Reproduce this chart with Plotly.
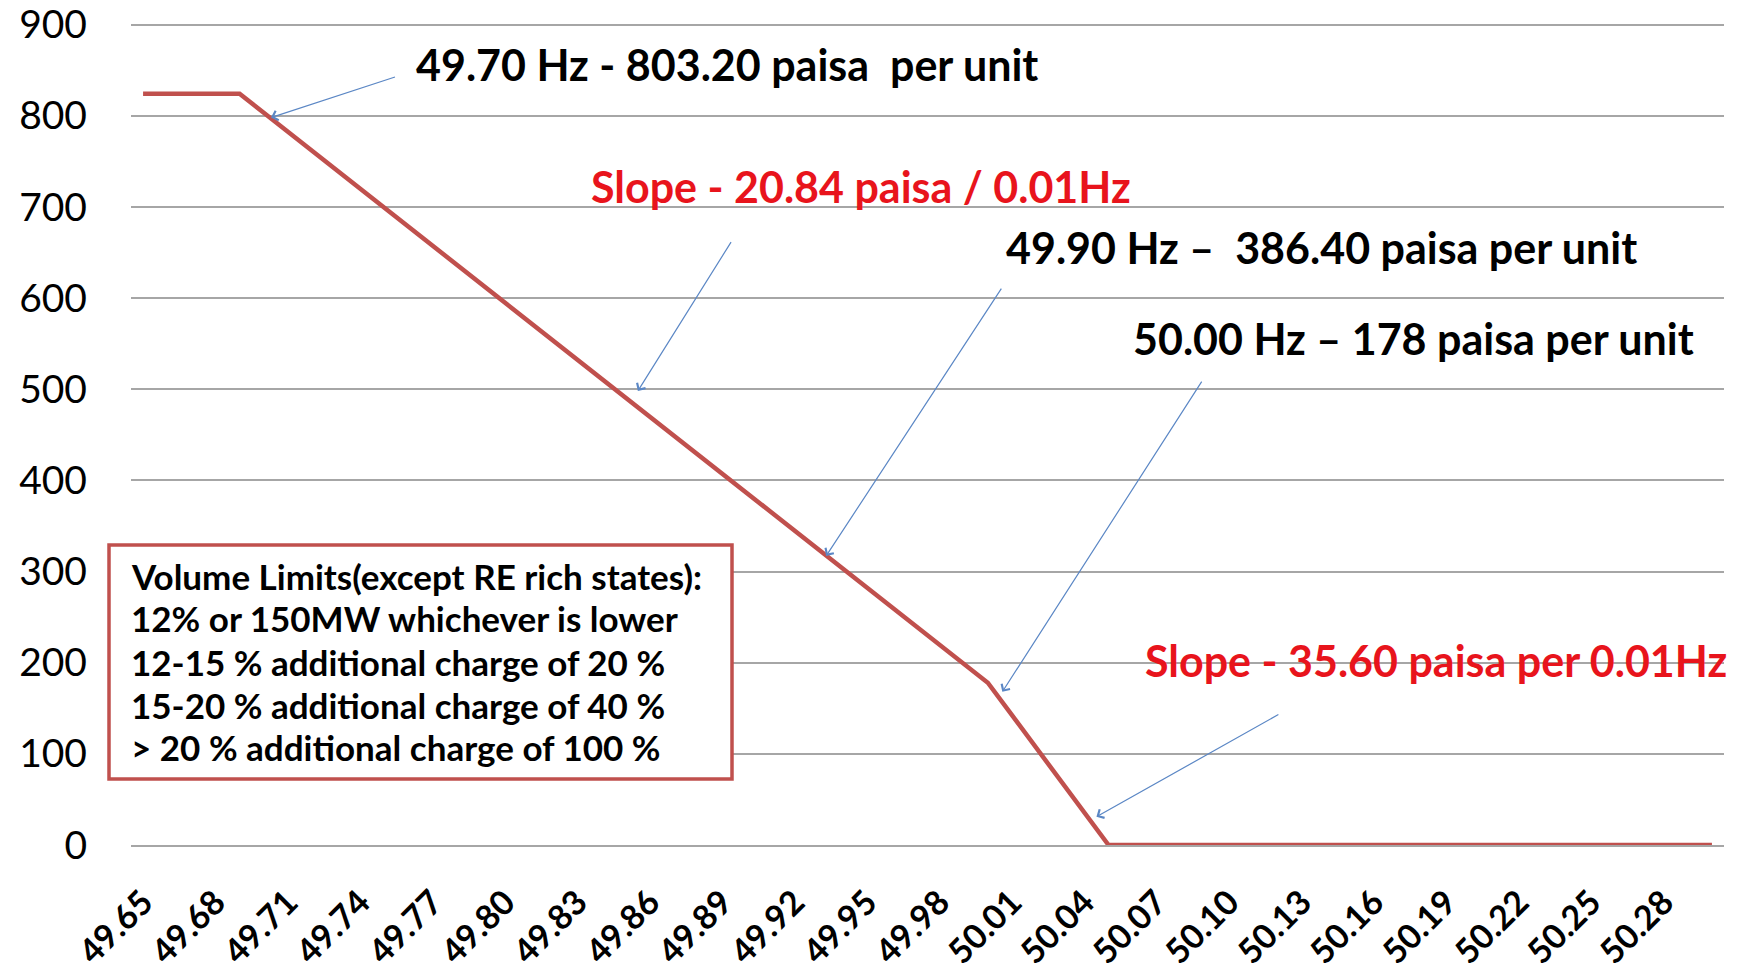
import plotly.graph_objects as go

# ---------------- data ----------------
frequency_hz = [
    49.65, 49.66, 49.67, 49.68, 49.69, 49.70, 49.71, 49.72, 49.73, 49.74,
    49.75, 49.76, 49.77, 49.78, 49.79, 49.80, 49.81, 49.82, 49.83, 49.84,
    49.85, 49.86, 49.87, 49.88, 49.89, 49.90, 49.91, 49.92, 49.93, 49.94,
    49.95, 49.96, 49.97, 49.98, 49.99, 50.00, 50.01, 50.02, 50.03, 50.04,
    50.05, 50.06, 50.07, 50.08, 50.09, 50.10, 50.11, 50.12, 50.13, 50.14,
    50.15, 50.16, 50.17, 50.18, 50.19, 50.20, 50.21, 50.22, 50.23, 50.24,
    50.25, 50.26, 50.27, 50.28, 50.29, 50.30,
]
charge_paisa = [
    824.04, 824.04, 824.04, 824.04, 824.04, 803.20, 782.36, 761.52, 740.68, 719.84,
    699.00, 678.16, 657.32, 636.48, 615.64, 594.80, 573.96, 553.12, 532.28, 511.44,
    490.60, 469.76, 448.92, 428.08, 407.24, 386.40, 365.56, 344.72, 323.88, 303.04,
    282.20, 261.36, 240.52, 219.68, 198.84, 178.00, 142.40, 106.80, 71.20, 35.60,
    0, 0, 0, 0, 0, 0, 0, 0, 0, 0,
    0, 0, 0, 0, 0, 0, 0, 0, 0, 0,
    0, 0, 0, 0, 0, 0,
]
x_tick_labels = ["49.65", "49.68", "49.71", "49.74", "49.77", "49.80", "49.83",
                 "49.86", "49.89", "49.92", "49.95", "49.98", "50.01", "50.04",
                 "50.07", "50.10", "50.13", "50.16", "50.19", "50.22", "50.25", "50.28"]
y_tick_values = [0, 100, 200, 300, 400, 500, 600, 700, 800, 900]

callout_texts = [
    "49.70 Hz - 803.20 paisa&nbsp; per unit",
    "Slope - 20.84 paisa / 0.01Hz",
    "49.90 Hz –&nbsp; 386.40 paisa per unit",
    "50.00 Hz – 178 paisa per unit",
    "Slope - 35.60 paisa per 0.01Hz",
]
callout_colors = ["black", "#e8141c", "black", "black", "#e8141c"]
box_lines = [
    "Volume Limits(except RE rich states):",
    "12% or 150MW whichever is lower",
    "12-15 % additional charge of 20 %",
    "15-20 % additional charge of 40 %",
    "> 20 % additional charge of 100 %",
]

# ---------------- layout helpers ----------------
W, H = 1744, 979
OFF = 8  # page body margin around the plot div
ML, MR, MT, MB = 123, 28, 12, 142
PW, PH = W - ML - MR, H - MT - MB


def px(xs):
    """screen x (px) -> paper fraction"""
    return (xs - OFF - ML) / PW


def py(ys):
    """screen y (px) -> paper fraction"""
    return (H - MB - (ys - OFF)) / PH


FONT = "Lato"

fig = go.Figure()
fig.add_trace(go.Scatter(
    x=frequency_hz, y=charge_paisa, mode="lines",
    line=dict(color="#c0504d", width=4.5), hoverinfo="skip", showlegend=False,
))

# text callouts (screen positions of left edge / vertical centre)
callout_pos = [(414, 64), (589, 187), (1004, 247), (1131, 338), (1143, 660)]
for txt, col, (xx, yy) in zip(callout_texts, callout_colors, callout_pos):
    fig.add_annotation(
        text=txt, xref="paper", yref="paper", x=px(xx), y=py(yy),
        xanchor="left", yanchor="middle", showarrow=False,
        font=dict(family=FONT, size=43, color=col, weight="bold"),
    )

# arrows: (head freq, head value, tail freq, tail value)
arrows = [
    (49.703, 798, 49.755, 843),
    (49.855, 498, 49.894, 663),
    (49.933, 317, 50.006, 612),
    (50.006, 168, 50.089, 510),
    (50.045, 31, 50.121, 144),
]
for hx, hy, tx, ty in arrows:
    fig.add_annotation(
        x=hx, y=hy, ax=tx, ay=ty, xref="x", yref="y", axref="x", ayref="y",
        text="", showarrow=True, arrowhead=4, arrowsize=1.6, arrowwidth=1.2,
        arrowcolor="#5b87c5",
    )

# volume-limit box
fig.add_shape(
    type="rect", xref="paper", yref="paper",
    x0=px(109), x1=px(732), y0=py(779), y1=py(545),
    line=dict(color="#c0504d", width=3.5), fillcolor="white", layer="above",
)
box_y = [576, 618, 662, 705, 747]
for line_txt, yy in zip(box_lines, box_y):
    fig.add_annotation(
        text=line_txt, xref="paper", yref="paper", x=px(129), y=py(yy),
        xanchor="left", yanchor="middle", showarrow=False,
        font=dict(family=FONT, size=35, color="black", weight="bold"),
    )

fig.update_layout(
    width=W, height=H,
    margin=dict(l=ML, r=MR, t=MT, b=MB, autoexpand=False),
    paper_bgcolor="white", plot_bgcolor="white",
    showlegend=False,
    xaxis=dict(
        range=[49.645, 50.305],
        tickmode="array",
        tickvals=[float(t) for t in x_tick_labels],
        ticktext=x_tick_labels,
        tickangle=-45,
        tickfont=dict(family=FONT, size=34, color="black", weight="bold"),
        showgrid=False, zeroline=False,
        showline=True, linecolor="#a6a6a6", linewidth=1.5,
        ticks="", ticklabelstandoff=22, automargin=False,
        ticklabeloverflow="allow",
    ),
    yaxis=dict(
        range=[0, 905],
        tickmode="array", tickvals=y_tick_values,
        tickfont=dict(family=FONT, size=39, color="black"),
        showgrid=True, gridcolor="#a6a6a6", gridwidth=1.5,
        zeroline=False, showline=False, ticks="",
        ticklabelstandoff=43, automargin=False,
        ticklabeloverflow="allow",
    ),
)

fig.write_html("out.html")
